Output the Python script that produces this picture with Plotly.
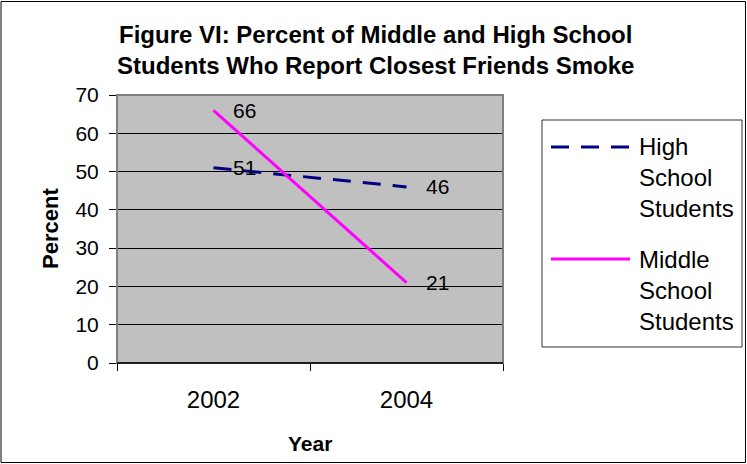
import plotly.graph_objects as go

# ---- data -------------------------------------------------------------
years = ["2002", "2004"]
series_names = ["High School Students", "Middle School Students"]
high_school = [51, 46]
middle_school = [66, 21]
y_ticks = [0, 10, 20, 30, 40, 50, 60, 70]

title_lines = ["Figure VI: Percent of Middle and High School",
               "Students Who Report Closest Friends Smoke"]
x_title = "Year"
y_title = "Percent"

# ---- geometry / style -------------------------------------------------
W, H = 747, 464
L, R, T, B = 117, 503, 95, 363          # plot area in pixels
FONT = "Arial, Liberation Sans, sans-serif"
NAVY = "#000080"
MAGENTA = "#FF00FF"


def px(xp):
    return (xp - L) / (R - L)


def py(yp):
    return (B - yp) / (B - T)


fig = go.Figure()

styles = [dict(color=NAVY, width=3, dash="18px,12px"),
          dict(color=MAGENTA, width=3, dash="solid")]
values = [high_school, middle_school]

for name, vals, st in zip(series_names, values, styles):
    fig.add_trace(go.Scatter(x=years, y=vals, mode="lines", name=name,
                             line=st, showlegend=False, hoverinfo="skip"))

annotations = []
# value labels next to each point (category index on the x axis)
for vals in values:
    for i, v in enumerate(vals):
        annotations.append(dict(x=i, y=v, xref="x", yref="y", text=str(v),
                                showarrow=False, xanchor="left", yanchor="middle",
                                xshift=17, font=dict(family=FONT, size=21, color="black")))

# chart title
annotations.append(dict(x=px(375), y=py(50), xref="paper", yref="paper",
                        text="<b>" + "<br>".join(title_lines) + "</b>",
                        showarrow=False, xanchor="center", yanchor="middle",
                        font=dict(family=FONT, size=24, color="black")))
# axis titles
annotations.append(dict(x=px(310), y=py(443), xref="paper", yref="paper",
                        text="<b>" + x_title + "</b>", showarrow=False,
                        xanchor="center", yanchor="middle",
                        font=dict(family=FONT, size=21, color="black")))
annotations.append(dict(x=px(50), y=py(229), xref="paper", yref="paper",
                        text="<b>" + y_title + "</b>", showarrow=False, textangle=-90,
                        xanchor="center", yanchor="middle",
                        font=dict(family=FONT, size=22, color="black")))

shapes = []
# outer chart frame
shapes.append(dict(type="rect", xref="paper", yref="paper",
                   x0=px(1), x1=px(745.5), y0=py(462.5), y1=py(1.5),
                   line=dict(color="black", width=1), layer="above"))
# plot-area frame
shapes.append(dict(type="rect", xref="paper", yref="paper", x0=0, x1=1, y0=0, y1=1,
                   line=dict(color="#808080", width=2), layer="above"))
shapes.append(dict(type="line", xref="paper", yref="paper", x0=0, x1=1, y0=0, y1=0,
                   line=dict(color="black", width=1.5), layer="above"))

# legend box
shapes.append(dict(type="rect", xref="paper", yref="paper",
                   x0=px(542), x1=px(742), y0=py(347), y1=py(120),
                   line=dict(color="#333333", width=1), fillcolor="white", layer="above"))
legend_rows = [147, 259]
legend_text_centers = [177, 290]
for name, st, ly, ty in zip(series_names, styles, legend_rows, legend_text_centers):
    shapes.append(dict(type="line", xref="paper", yref="paper",
                       x0=px(551), x1=px(630), y0=py(ly), y1=py(ly),
                       line=st, layer="above"))
    annotations.append(dict(x=px(637), y=py(ty), xref="paper", yref="paper",
                            text="<br>".join(name.split(" ")), showarrow=False,
                            xanchor="left", yanchor="middle", align="left",
                            font=dict(family=FONT, size=24, color="black")))

fig.update_layout(
    width=W, height=H,
    margin=dict(l=L, r=W - R, t=T, b=H - B, pad=0),
    paper_bgcolor="white", plot_bgcolor="#C0C0C0",
    font=dict(family=FONT, color="black"),
    showlegend=False,
    annotations=annotations, shapes=shapes,
    xaxis=dict(type="category", range=[-0.5, 1.5], tickson="boundaries",
               ticks="outside", ticklen=7, tickcolor="black", tickwidth=1,
               showgrid=False, zeroline=False, showline=False,
               tickfont=dict(family=FONT, size=24, color="black"),
               ticklabelstandoff=20),
    yaxis=dict(range=[0, 70], tickvals=y_ticks, ticks="outside", ticklen=7,
               tickcolor="black", tickwidth=1, showgrid=True, gridcolor="#000000",
               gridwidth=1, zeroline=False, showline=False,
               tickfont=dict(family=FONT, size=21, color="black"),
               ticklabelstandoff=6),
)

fig.write_html("out.html")
